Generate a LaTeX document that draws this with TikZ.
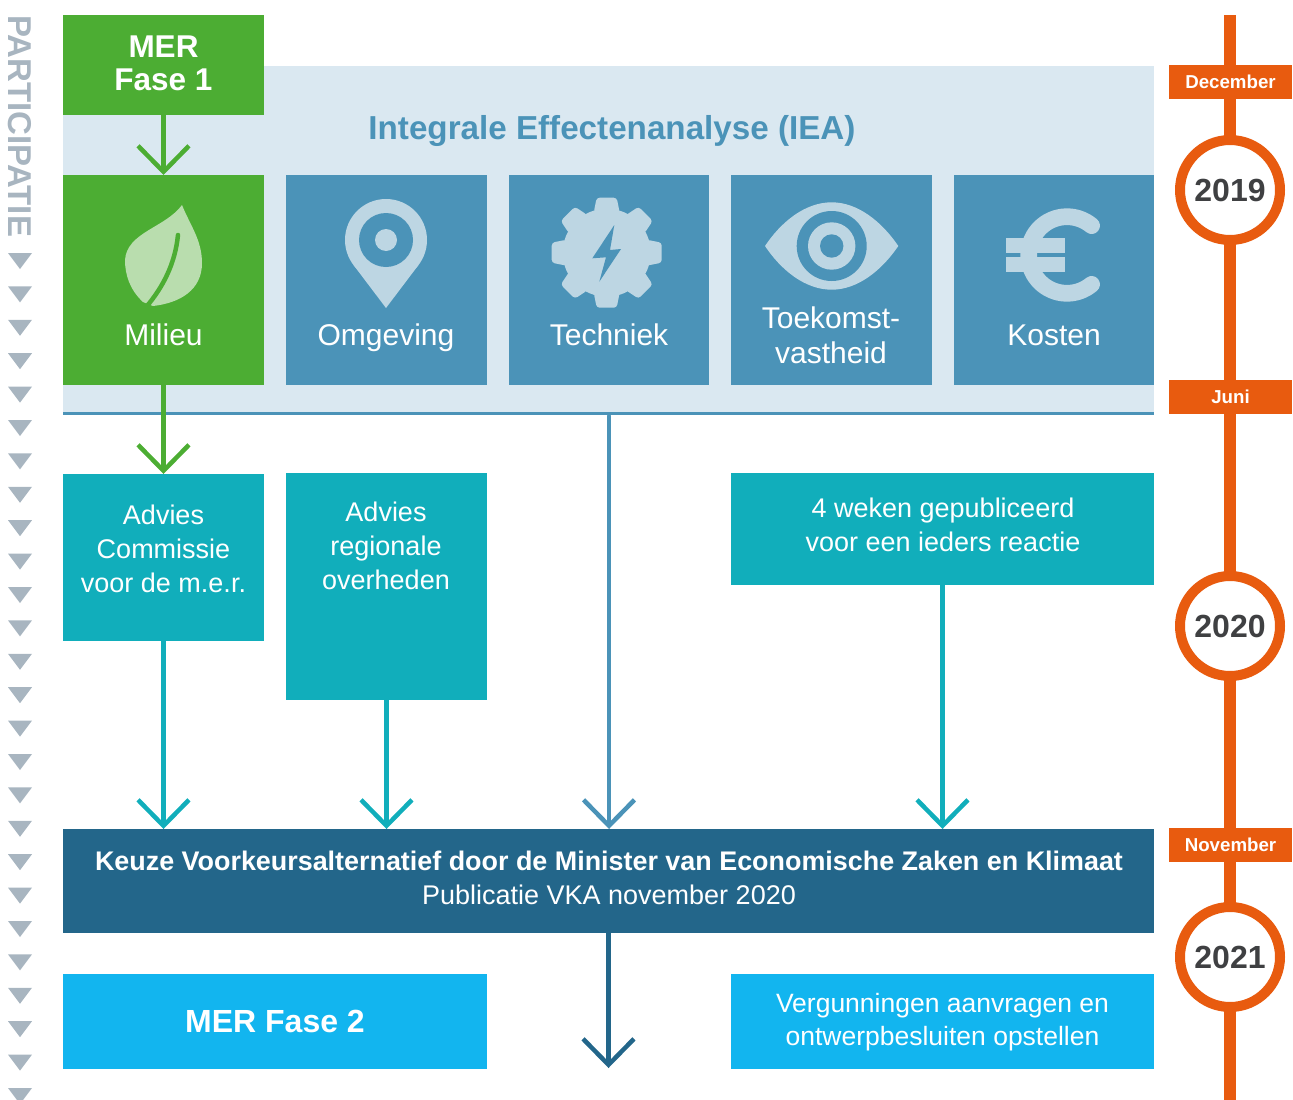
\documentclass[tikz,border=0pt]{standalone}
\usepackage{fontspec}
\setmainfont{Liberation Sans}
\usetikzlibrary{arrows.meta}
\definecolor{iealight}{HTML}{DAE8F1}
\definecolor{ieablue}{HTML}{4B93B8}
\definecolor{iconblue}{HTML}{BDD6E3}
\definecolor{merGreen}{HTML}{4CAD33}
\definecolor{iconGreen}{HTML}{B9DDAE}
\definecolor{adviesTeal}{HTML}{11AEBB}
\definecolor{keuzeBlue}{HTML}{23668A}
\definecolor{faseBlue}{HTML}{12B5EF}
\definecolor{timeOrange}{HTML}{E85B0F}
\definecolor{yearGrey}{HTML}{3F4042}
\definecolor{partGrey}{HTML}{A8B5C0}
\tikzset{
  box/.style={anchor=north west, inner sep=0pt, outer sep=0pt, align=center, text=white,
    minimum width=#1},
  boxtext/.style={inner sep=0pt, align=center, text=white, font=\fontsize{27}{34}\selectfont},
  icontext/.style={inner sep=0pt, anchor=base, align=center, text=white, font=\fontsize{30}{34.5}\selectfont},
  month/.style={fill=timeOrange, inner sep=0pt, minimum width=123pt, minimum height=34pt,
    text=white, font=\fontsize{18.7}{20}\selectfont\bfseries},
  year/.style={circle, draw=timeOrange, line width=10pt, fill=white, inner sep=0pt,
    minimum size=100pt, text=yearGrey, font=\fontsize{32}{34}\selectfont\bfseries},
  flow/.style={line width=4.5pt, -{Straight Barb[length=26pt,width=51pt]}, line cap=round}
}
\begin{document}
\begin{tikzpicture}[x=1pt,y=-1pt]
\useasboundingbox (0,0) rectangle (1293,1100);
% achtergrond
\fill[iealight] (63,66) rectangle (1154,415);
\coordinate (ieaLineLeft) at (63,413.5);
\coordinate (ieaLineRight) at (1154,413.5);
\coordinate (ieaLineOut) at (609,416);
\draw[ieablue,line width=3pt] (ieaLineLeft) -- (ieaLineRight);
\node[text=ieablue,font=\fontsize{33.2}{36}\selectfont\bfseries] (ieaTitle) at (612,131) {Integrale Effectenanalyse (IEA)};
% participatie
\node[rotate=-90,text=partGrey,inner sep=0pt,anchor=base west,font=\fontsize{33}{36}\selectfont\bfseries] (participatie) at (9,15) {PARTICIPATIE};
\foreach \i in {0,...,25}
  \fill[partGrey] (8,{253+33.4*\i}) -- (32,{253+33.4*\i}) -- (20,{269+33.4*\i}) -- cycle;
% boxes
\node[box=201pt,fill=merGreen,minimum height=100pt] (merFase) at (63,15) {};
\node[boxtext,font=\fontsize{31.5}{33.5}\selectfont\bfseries] (merFaseText) at (163.5,63.5) {MER\\Fase 1};
\node[box=201pt,fill=merGreen,minimum height=210pt] (milieu) at (63,175) {};
\node[box=201pt,fill=ieablue,minimum height=210pt] (omgeving) at (286,175) {};
\node[box=200pt,fill=ieablue,minimum height=210pt] (techniek) at (509,175) {};
\node[box=201pt,fill=ieablue,minimum height=210pt] (toekomst) at (731,175) {};
\node[box=200pt,fill=ieablue,minimum height=210pt] (kosten) at (954,175) {};
\node[icontext] (milieuText) at (163.5,345) {Milieu};
\node[icontext] (omgevingText) at (386,345) {Omgeving};
\node[icontext] (techniekText) at (609,345) {Techniek};
\node[icontext,anchor=center] (toekomstText) at (831,335.5) {Toekomst-\\vastheid};
\node[icontext] (kostenText) at (1054,345) {Kosten};
\node[box=201pt,fill=adviesTeal,minimum height=167pt] (commissie) at (63,474) {};
\node[box=201pt,fill=adviesTeal,minimum height=227pt] (regionaal) at (286,473) {};
\node[box=423pt,fill=adviesTeal,minimum height=112pt] (reactie) at (731,473) {};
\node[boxtext] (commissieText) at (163.5,549) {Advies\\Commissie\\voor de m.e.r.};
\node[boxtext] (regionaalText) at (386,546) {Advies\\regionale\\overheden};
\node[boxtext] (reactieText) at (943,525) {4 weken gepubliceerd\\voor een ieders reactie};
\node[box=1091pt,fill=keuzeBlue,minimum height=104pt] (keuze) at (63,829) {};
\node[boxtext] (keuzeText) at (609,878) {{\fontsize{26.9}{34}\selectfont\bfseries Keuze Voorkeursalternatief door de Minister van Economische Zaken en Klimaat}\\Publicatie VKA november 2020};
\node[box=424pt,fill=faseBlue,minimum height=95pt,font=\fontsize{32}{34}\selectfont\bfseries] (merFaseTwee) at (63,973.5) {MER Fase 2};
\node[box=423pt,fill=faseBlue,minimum height=95pt] (vergunning) at (731,974) {};
\node[boxtext,font=\fontsize{26.5}{33.5}\selectfont] (vergunningText) at (942.5,1022) {Vergunningen aanvragen en\\ontwerpbesluiten opstellen};
\coordinate (verder) at (609,1068);
% pijlen
\draw[flow,merGreen] (merFase.south) -- (milieu.north);
\draw[flow,merGreen] (milieu.south) -- (commissie.north);
\draw[flow,adviesTeal] (commissie.south) -- (commissie.south |- keuze.north);
\draw[flow,adviesTeal] (regionaal.south) -- (regionaal.south |- keuze.north);
\draw[flow,ieablue] (ieaLineOut) -- (ieaLineOut |- keuze.north);
\draw[flow,adviesTeal] (reactie.south) -- (reactie.south |- keuze.north);
\draw[flow,keuzeBlue] (keuze.south) -- (keuze.south |- verder);
% iconen
\fill[iconGreen] (182,205) .. controls (190,225) and (202,240) .. (202,263)
  .. controls (202,290) and (180,303) .. (153,306) -- (143,302)
  .. controls (130,290) and (125,275) .. (125,260) .. controls (127,232) and (165,228) .. (182,205) -- cycle;
\draw[merGreen,line width=4.5pt,line cap=round] (178,235) .. controls (175,265) and (162,288) .. (147,306);
\fill[iconblue] (386,240) circle[radius=41pt];
\fill[iconblue] (386,308) -- (353.3,264.7) -- (418.7,264.7) -- cycle;
\fill[ieablue] (386,240) circle[radius=27pt];
\fill[iconblue] (386,240) circle[radius=11pt];
\fill[iconblue] (606.7,252.7) circle[radius=44pt];
\foreach \a in {0,45,...,315}
  \fill[iconblue,rounded corners=3pt,shift={(606.7,252.7)},rotate=\a] (-13,-40) -- (-10,-55) -- (10,-55) -- (13,-40) -- cycle;
\fill[ieablue] (614.3,225) -- (592.3,258.3) -- (606,257.3) -- (599.3,281.7) -- (621,249) -- (610,250) -- cycle;
\fill[iconblue] (765,246) .. controls (781,222) and (805,202.3) .. (831.7,202.3) .. controls (858,202.3) and (882,222) .. (898.3,246)
  .. controls (882,270) and (858,289.7) .. (831.7,289.7) .. controls (805,289.7) and (781,270) .. (765,246) -- cycle;
\fill[ieablue] (831.7,246) circle[radius=35pt];
\fill[iconblue] (831.7,246) circle[radius=23.7pt];
\fill[ieablue] (831.7,246) circle[radius=11.7pt];
\fill[iconblue] (1006,238.3) rectangle (1065,253.3);
\fill[iconblue] (1006,257.3) rectangle (1065,272.3);
\draw[iconblue,line width=16.7pt,line cap=round] plot[domain=50:310,samples=50,smooth] ({1067+38.3*cos(\x)},{255+38.3*sin(\x)});
% tijdlijn
\coordinate (timeTop) at (1230,15);
\coordinate (timeEnd) at (1230,1100);
\draw[timeOrange,line width=11.5pt] (timeTop) -- (timeEnd);
\node[month] (december) at (1230.5,82) {December};
\node[month] (juni) at (1230.5,397) {Juni};
\node[month] (november) at (1230.5,845) {November};
\node[year] (jaarEen) at (1230,190) {2019};
\node[year] (jaarTwee) at (1230,626) {2020};
\node[year] (jaarDrie) at (1230,957) {2021};
\end{tikzpicture}
\end{document}
